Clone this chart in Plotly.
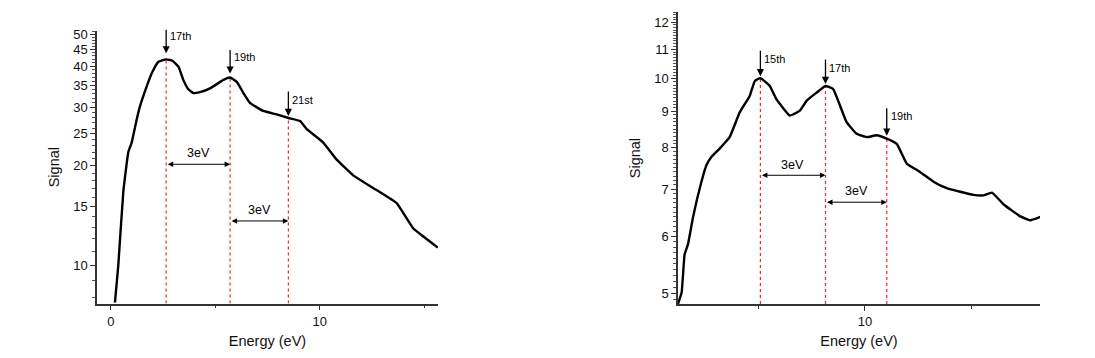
import numpy as np
import plotly.graph_objects as go

# ---------------- data ----------------
energy_left = [0.2, 0.36, 0.6, 0.84, 1.0, 1.24, 1.4, 1.72, 1.96, 2.28, 2.65, 2.95, 3.24, 3.47, 3.71,
               3.95, 4.27, 4.75, 5.39, 5.71, 6.03, 6.35, 6.66, 7.3, 7.94, 8.5, 9.06, 9.38, 10.17,
               10.8, 11.6, 12.57, 13.68, 14.48, 14.96, 15.65]
signal_left = [7.7, 10.0, 16.7, 22.0, 23.5, 27.6, 30.3, 34.8, 38.1, 41.3, 42.0, 41.6, 39.9, 36.4, 34.1,
               33.2, 33.4, 34.3, 36.4, 37.0, 35.9, 33.2, 31.0, 29.3, 28.6, 27.9, 27.3, 25.8, 23.5,
               20.9, 18.7, 17.1, 15.4, 12.9, 12.2, 11.3]

energy_right = [1.24, 1.41, 1.55, 1.71, 1.94, 2.26, 2.57, 2.81, 3.19, 3.66, 4.13, 4.6, 4.84, 5.10,
                5.54, 5.85, 6.48, 6.95, 7.26, 7.73, 8.15, 8.51, 8.83, 9.14, 9.61, 10.08, 10.55,
                11.02, 11.49, 11.96, 12.58, 13.21, 13.83, 14.46, 15.08, 15.55, 15.95, 16.5, 17.28,
                17.75, 18.22]
signal_right = [4.83, 5.01, 5.67, 5.86, 6.38, 7.02, 7.56, 7.77, 7.98, 8.28, 8.97, 9.46, 9.93, 10.02,
                9.77, 9.36, 8.88, 9.02, 9.31, 9.56, 9.77, 9.67, 9.17, 8.69, 8.37, 8.28, 8.33,
                8.24, 8.10, 7.60, 7.40, 7.17, 7.02, 6.94, 6.87, 6.86, 6.92, 6.66, 6.41,
                6.33, 6.40]

peaks_left_E = [2.65, 5.71, 8.5]
peaks_left_S = [42.0, 37.0, 27.9]
peaks_left_lab = ["17th", "19th", "21st"]

peaks_right_E = [5.10, 8.15, 11.02]
peaks_right_S = [10.02, 9.77, 8.24]
peaks_right_lab = ["15th", "17th", "19th"]

spacing_label = "3eV"
spacing_left_y = [20.2, 13.6]
spacing_right_y = [7.32, 6.71]

yticks_left = [10, 15, 20, 25, 30, 35, 40, 45, 50]
yticks_right = [5, 6, 7, 8, 9, 10, 11, 12]

# ---------------- styling ----------------
FONT = "Liberation Sans, Arial, sans-serif"
xr_left = [-0.66, 15.66]
yr_left = [7.64, 51.3]
xr_right = [1.24, 18.2]
yr_right = [4.83, 12.4]

fig = go.Figure()

def add_panel(E, S, xa, ya):
    fig.add_trace(go.Scatter(x=E, y=S, mode="lines", xaxis=xa, yaxis=ya,
                             line=dict(color="black", width=2.4, shape="spline", smoothing=0.35),
                             showlegend=False, hoverinfo="skip"))

# red dotted guide lines (drawn first, under the curve)
for E, S in zip(peaks_left_E, peaks_left_S):
    fig.add_trace(go.Scatter(x=[E, E], y=[yr_left[0], S], mode="lines", xaxis="x", yaxis="y",
                             line=dict(color="#ff2020", width=1.2, dash="dot"), showlegend=False))
for E, S in zip(peaks_right_E, peaks_right_S):
    fig.add_trace(go.Scatter(x=[E, E], y=[yr_right[0], S], mode="lines", xaxis="x2", yaxis="y2",
                             line=dict(color="#ff2020", width=1.2, dash="dot"), showlegend=False))

add_panel(energy_left, signal_left, "x", "y")
add_panel(energy_right, signal_right, "x2", "y2")

annots = []
left_arrow = [(-31, 6, 23), (-29, 4, 21), (-28, 2, 18)]
right_arrow = [(-29, 2, 19), (-28, 2, 18), (-32, 3, 23)]

def peak_annots(Es, Ss, labs, specs, xref, yref):
    for E, S, lab, (ay, so, ysh) in zip(Es, Ss, labs, specs):
        annots.append(dict(x=E, y=np.log10(S), xref=xref, yref=yref, text="", showarrow=True,
                           ax=0, ay=ay, standoff=so, arrowhead=2, arrowsize=1.1, arrowwidth=1.3,
                           arrowcolor="black"))
        annots.append(dict(x=E, y=np.log10(S), xref=xref, yref=yref, text=lab, showarrow=False,
                           xanchor="left", yanchor="middle", xshift=2, yshift=ysh,
                           font=dict(family=FONT, size=11, color="black")))

peak_annots(peaks_left_E, peaks_left_S, peaks_left_lab, left_arrow, "x", "y")
peak_annots(peaks_right_E, peaks_right_S, peaks_right_lab, right_arrow, "x2", "y2")

def spacing_annots(Es, ys, xref, yref, shifts):
    for i, yv in enumerate(ys):
        x1, x2 = Es[i], Es[i + 1]
        annots.append(dict(x=x2, y=np.log10(yv), ax=x1, ay=np.log10(yv), xref=xref, yref=yref,
                           axref=xref, ayref=yref, text="", showarrow=True,
                           arrowside="end+start", arrowhead=2, startarrowhead=2,
                           arrowsize=1.1, startarrowsize=1.1, arrowwidth=1, arrowcolor="black"))
        annots.append(dict(x=(x1 + x2) / 2, y=np.log10(yv), xref=xref, yref=yref, text=spacing_label,
                           showarrow=False, yanchor="bottom", yshift=shifts[i] - 7,
                           font=dict(family=FONT, size=12.5, color="black")))

spacing_annots(peaks_left_E, spacing_left_y, "x", "y", [9, 9])
spacing_annots(peaks_right_E, spacing_right_y, "x2", "y2", [8, 9])

axis_common = dict(showline=True, linecolor="#333333", linewidth=1.5, ticks="outside",
                   tickcolor="#333333", ticklen=5, tickwidth=1, showgrid=False, zeroline=False,
                   tickfont=dict(family=FONT, size=13, color="#111111"),
                   title_font=dict(family=FONT, size=14.5, color="#111111"))

fig.update_layout(
    width=1095, height=358, margin=dict(l=0, r=0, t=0, b=0),
    paper_bgcolor="white", plot_bgcolor="white",
    annotations=annots,
    xaxis=dict(domain=[97/1095, 438/1095], range=xr_left, anchor="y",
               tickvals=[0, 10], title=dict(text="Energy (eV)", standoff=8),
               minor=dict(tickvals=[5, 15], ticklen=3, ticks="outside", tickcolor="#333333"),
               **axis_common),
    yaxis=dict(domain=[55/358, 331/358], type="log",
               range=[np.log10(yr_left[0]), np.log10(yr_left[1])], anchor="x",
               tickvals=yticks_left, ticktext=[str(v) for v in yticks_left],
               title=dict(text="Signal", standoff=10),
               minor=dict(tickvals=list(range(8, 52)), ticklen=3, ticks="outside", tickcolor="#555555"),
               **axis_common),
    xaxis2=dict(domain=[678/1095, 1040/1095], range=xr_right, anchor="y2",
                tickvals=[10], title=dict(text="Energy (eV)", standoff=8),
                minor=dict(tickvals=[5, 15], ticklen=3, ticks="outside", tickcolor="#333333"),
                **axis_common),
    yaxis2=dict(domain=[54.7/358, 349.7/358], type="log",
                range=[np.log10(yr_right[0]), np.log10(yr_right[1])], anchor="x2",
                tickvals=yticks_right, ticktext=[str(v) for v in yticks_right],
                title=dict(text="Signal", standoff=10),
                minor=dict(tickvals=[round(v, 1) for v in np.arange(4.9, 12.45, 0.1)],
                           ticklen=3, ticks="outside", tickcolor="#555555"),
                **axis_common),
)

fig.write_html("out.html")
